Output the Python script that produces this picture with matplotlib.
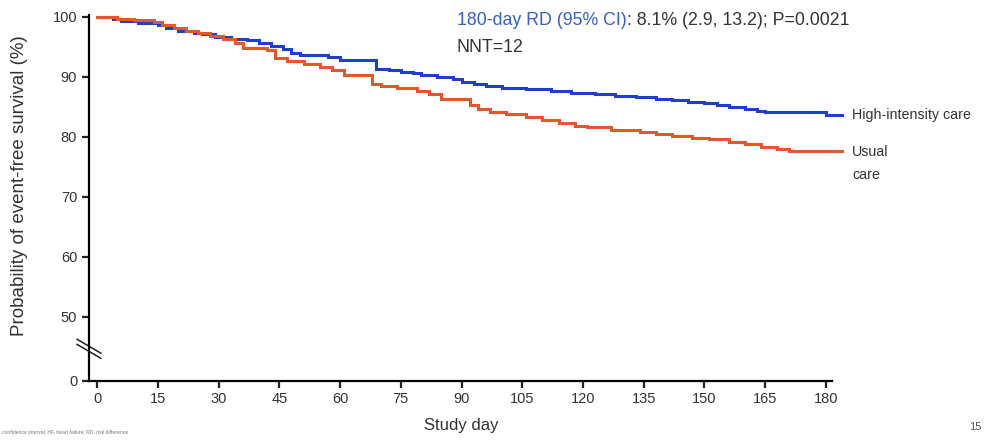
import matplotlib
matplotlib.use("Agg")
import matplotlib.pyplot as plt
import numpy as np

# ---- data ----
blue_days = [0, 4, 6, 10, 15, 17, 20, 24, 26, 29, 33, 37, 40, 43, 46, 48, 50, 57, 60, 69,
             72, 75, 78, 80, 84, 88, 90, 93, 96, 100, 106, 112, 117, 123, 128, 133, 138, 142,
             146, 150, 153, 156, 160, 163, 165, 180]
blue_vals = [100, 99.7, 99.4, 99.0, 98.7, 98.1, 97.6, 97.4, 97.1, 96.7, 96.3, 96.2, 95.6, 95.2,
             94.6, 94.0, 93.7, 93.4, 92.8, 91.4, 91.1, 90.9, 90.6, 90.3, 90.0, 89.7, 89.2, 88.8,
             88.5, 88.2, 88.0, 87.6, 87.3, 87.2, 86.8, 86.6, 86.4, 86.2, 85.9, 85.6, 85.3, 85.0,
             84.6, 84.4, 84.2, 83.7]
orange_days = [0, 5, 9, 14, 16, 19, 22, 25, 28, 31, 34, 36, 42, 44, 47, 51, 55, 58, 61, 68,
               70, 74, 79, 82, 85, 92, 94, 97, 101, 106, 110, 114, 118, 121, 127, 134, 138, 142,
               147, 151, 156, 160, 164, 168, 171]
orange_vals = [100, 99.7, 99.5, 99.2, 98.7, 98.2, 97.6, 97.3, 96.8, 96.3, 95.6, 94.8, 94.5, 93.1,
               92.6, 92.2, 91.7, 91.2, 90.3, 88.8, 88.5, 88.2, 87.7, 87.1, 86.4, 85.3, 84.6, 84.1,
               83.8, 83.4, 82.9, 82.4, 81.9, 81.6, 81.2, 80.9, 80.5, 80.2, 79.9, 79.6, 79.2, 78.8,
               78.4, 78.0, 77.7]
end_day = 184
x_ticks = [0, 15, 30, 45, 60, 75, 90, 105, 120, 135, 150, 165, 180]
y_tick_vals = [0, 50, 60, 70, 80, 90, 100]
y_tick_labels = ["0", "50", "60", "70", "80", "90", "100"]
series_labels = ["High-intensity care", "Usual\ncare"]

# broken axis: value 0 is drawn at this position on the 50-100 scale
Y_BREAK = 39.33

def ymap(v):
    v = np.asarray(v, dtype=float)
    return np.where(v >= 50, v, Y_BREAK)

BLUE = "#1f3ec9"
ORANGE = "#e4572a"
FONT = ["Liberation Sans", "DejaVu Sans"]
plt.rcParams["font.family"] = FONT

fig = plt.figure(figsize=(9.87, 4.40), dpi=100)
ax = fig.add_axes([89 / 987, (440 - 381) / 440, 743 / 987, (381 - 15.2) / 440])

bx = list(blue_days) + [end_day]
by = list(blue_vals) + [blue_vals[-1]]
ox = list(orange_days) + [end_day]
oy = list(orange_vals) + [orange_vals[-1]]
ax.step(bx, ymap(by), where="post", color=BLUE, lw=2.2, solid_joinstyle="miter", clip_on=False)
ax.step(ox, ymap(oy), where="post", color=ORANGE, lw=2.2, solid_joinstyle="miter", clip_on=False)

ax.set_xlim(-2, 181.5)
ax.set_ylim(Y_BREAK, 100.3)
ax.set_xticks(x_ticks)
ax.set_xticklabels([str(t) for t in x_ticks])
ax.set_yticks([Y_BREAK if v == 0 else v for v in y_tick_vals])
ax.set_yticklabels(y_tick_labels)

for s in ["top", "right"]:
    ax.spines[s].set_visible(False)
for s in ["left", "bottom"]:
    ax.spines[s].set_linewidth(1.6)
ax.tick_params(axis="both", direction="out", length=5, width=1.6, labelsize=10.5,
               colors="#222222", labelcolor="#333333")
ax.tick_params(axis="x", pad=3)

ax.set_xlabel("Study day", fontsize=12, color="#333333")
ax.xaxis.set_label_coords(0.5007, -0.100)
ax.set_ylabel("Probability of event-free survival (%)", fontsize=13.5, color="#333333")
ax.yaxis.set_label_coords(-0.082, 0.535)

# axis break marks
for off in (0.0, 0.014):
    ax.plot([-0.016, 0.016], [0.10 + off, 0.062 + off], transform=ax.transAxes,
            color="#222222", lw=1.1, clip_on=False)

# annotation texts
t1 = ax.annotate("180-day RD (95% CI)", xy=(457, 440 - 20), xycoords="figure pixels",
                 fontsize=12.8, color="#3a5fc4", va="center", ha="left")
fig.canvas.draw()
ax.annotate(": 8.1% (2.9, 13.2); P=0.0021", xy=(1, 0.5), xycoords=t1,
            fontsize=12.8, color="#333333", va="center", ha="left")
ax.annotate("NNT=12", xy=(457, 440 - 47), xycoords="figure pixels",
            fontsize=12.8, color="#333333", va="center", ha="left")

# series labels at line ends
fig.text(852 / 987, 1 - 115 / 440, series_labels[0], fontsize=10.3, color="#333333",
         va="center", ha="left")
fig.text(852 / 987, 1 - 163.5 / 440, series_labels[1], fontsize=10.3, color="#333333",
         va="center", ha="left", linespacing=1.75)

# footnote and page number
fig.text(0.002, 0.012, "confidence interval; HF, heart failure; RD, risk difference",
         fontsize=3.6, color="#777777", ha="left", va="bottom")
fig.text(0.982, 0.018, "15", fontsize=8, color="#555555", ha="left", va="bottom")

fig.savefig("out.png", dpi=100, facecolor="white")
